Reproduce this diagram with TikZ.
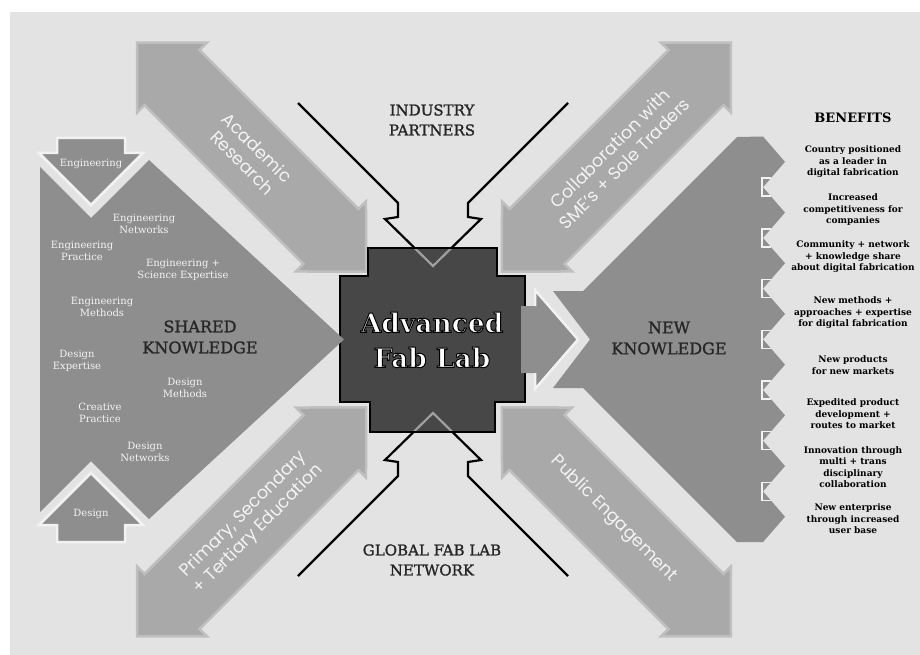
\documentclass[tikz,border=0pt]{standalone}
\usepackage{fontspec}
\setmainfont{DejaVu Serif}
\newfontfamily\slab{DejaVu Serif}
\newfontfamily\slabheavy[FakeBold=1.3]{DejaVu Serif}
\newfontfamily\geo{Poppins}
\definecolor{panel}{HTML}{E3E3E3}
\definecolor{bandfill}{HTML}{A9A9A9}
\definecolor{bandedge}{HTML}{BFBFBF}
\definecolor{knowfill}{HTML}{8E8E8E}
\definecolor{rimlight}{HTML}{F2F2F2}
\definecolor{labfill}{HTML}{474747}
\definecolor{inkdark}{HTML}{262626}
\definecolor{paletext}{HTML}{F3F3F3}
% white letters with a thin dark rim (fill + stroke text rendering)
\newcommand\rimon{\special{pdf:literal direct 2 Tr 1 w 0 G}}
\newcommand\rimoff{\special{pdf:literal direct 0 Tr}}

\begin{document}
\begin{tikzpicture}[x=1pt,y=-1pt,
  band/.style={fill=bandfill,draw=bandedge,line width=2.5pt,line join=miter},
  knowledge/.style={fill=knowfill},
  minor/.style={fill=knowfill,draw=rimlight,line width=2.5pt,line join=miter},
  partner/.style={draw=black,line width=2.2pt,line join=miter},
  partnerin/.style={draw=knowfill!85!white,line width=2.2pt,line join=miter},
  bandtext/.style={font=\geo\fontsize{17.5}{21}\selectfont,text=paletext,align=center},
  skill/.style={font=\slab\fontsize{10}{11.5}\selectfont,text=paletext,align=center},
  heading/.style={font=\slabheavy\fontsize{16}{21}\selectfont,text=inkdark,align=center},
  partnerlabel/.style={font=\slabheavy\fontsize{15}{20}\selectfont,text=inkdark,align=center},
  benefit/.style={font=\slab\bfseries\fontsize{9}{11.5}\selectfont,text=black,align=center},
  titletext/.style={font=\slab\bfseries\fontsize{26.5}{35}\selectfont,align=center,text=white}
]
\def\labpath{(368,248) -- (497,248) -- (497,276) -- (525,276) -- (525,402) -- (495,402) -- (495,432) -- (370,432) -- (370,402) -- (340,402) -- (340,276) -- (368,276) -- cycle}

\useasboundingbox (0,0) rectangle (920,655);
\fill[white] (0,0) rectangle (920,655);
\fill[panel] (10,12) rectangle (920,655);

% four double-headed diagonal bands around the lab
\foreach \ang in {45,135,225,315} {
  \begin{scope}[shift={(434,339.5)},rotate=\ang]
    \filldraw[band] (96,0) -- (145.7,49.5) -- (145.7,38.9) -- (370.5,38.9) -- (370.5,49.5) -- (420,0)
      -- (370.5,-49.5) -- (370.5,-38.9) -- (145.7,-38.9) -- (145.7,-49.5) -- cycle;
  \end{scope}
}

% new knowledge shape with its row of benefit arrowheads
\fill[knowledge] (583,291) -- (737,137)
  foreach \i in {0,...,7} { -- (763,{136.5+50.7*\i}) -- (785,{161.85+50.7*\i}) }
  -- (763,542.1) -- (737,542.1) -- (583,388) -- (553,388) -- (590,339.5) -- (553,291) -- cycle;
\foreach \i in {0,...,6}
  \draw[rimlight,line width=1.5pt] (771,{178.2+50.7*\i}) -- (762,{178.2+50.7*\i}) -- (762,{196.2+50.7*\i}) -- (771,{196.2+50.7*\i});

% industry partners and global network outline arrows
\draw[partner] (298,103) -- (398,203) -- (398,217) -- (385,219) -- (433,266) -- (481,219) -- (468,217) -- (468,203) -- (568,103);
\draw[partner] (298,576) -- (398,476) -- (398,462) -- (385,460) -- (433,413) -- (481,460) -- (468,462) -- (468,476) -- (568,576);

% the lab block
\fill[labfill] \labpath;
\begin{scope}
  \clip \labpath;
  \draw[partnerin] (385,219) -- (433,266) -- (481,219);
  \draw[partnerin] (385,460) -- (433,413) -- (481,460);
\end{scope}
\draw[black,line width=2pt,line join=miter] \labpath;

% arrow leaving the lab
\fill[knowfill] (521,306) -- (535,306) -- (535,290) -- (578,339.5) -- (535,389) -- (535,373) -- (521,373) -- cycle;
\draw[rimlight,line width=2.5pt,line join=miter] (535,306) -- (535,290) -- (578,339.5) -- (535,389) -- (535,373);

% shared knowledge shape with engineering and design inputs
\fill[knowledge] (40,167) -- (91,218) -- (149,160) -- (344,339.5) -- (149,519) -- (91,461) -- (40,512) -- cycle;
\filldraw[minor] (57,138) -- (125,138) -- (125,153) -- (143,153) -- (91,205) -- (39,153) -- (57,153) -- cycle;
\filldraw[minor] (57,542) -- (125,542) -- (125,525) -- (143,525) -- (91,473) -- (39,525) -- (57,525) -- cycle;

% title
\node[titletext] (title) at (432,340) {\rimon Advanced\rimoff\\\rimon Fab Lab\rimoff};

% band labels
\node[bandtext,rotate=-45] (academic) at (250,155) {Academic\\Research};
\node[bandtext,rotate=45] (collab) at (617,156) {Collaboration with\\SME’s + Sole Traders};
\node[bandtext,rotate=45] (schools) at (251,522) {Primary, Secondary\\+ Tertiary Education};
\node[bandtext,rotate=-45] (public) at (614,519) {Public Engagement};

% headings
\node[heading] (shared) at (200,337) {SHARED\\KNOWLEDGE};
\node[heading] (newknow) at (669,338) {NEW\\KNOWLEDGE};
\node[partnerlabel] (industry) at (432,120) {INDUSTRY\\PARTNERS};
\node[partnerlabel] (global) at (432,560) {GLOBAL FAB LAB\\NETWORK};

% shared knowledge items
\node[skill] (eng) at (91,164) {Engineering};
\node[skill] (engnet) at (144,224) {Engineering\\Networks};
\node[skill] (engprac) at (82,251) {Engineering\\Practice};
\node[skill] (engsci) at (183,270) {Engineering +\\Science Expertise};
\node[skill] (engmeth) at (102,307) {Engineering\\Methods};
\node[skill] (desexp) at (77,361) {Design\\Expertise};
\node[skill] (desmeth) at (185,388) {Design\\Methods};
\node[skill] (creprac) at (100,413) {Creative\\Practice};
\node[skill] (desnet) at (145,452) {Design\\Networks};
\node[skill] (des) at (91,514) {Design};

% benefits column
\node[font=\slab\bfseries\fontsize{13}{15}\selectfont,text=black] (benefits) at (853,118) {BENEFITS};
\node[benefit] (b1) at (853,162) {Country positioned\\as a leader in\\digital fabrication};
\node[benefit] (b2) at (853,210) {Increased\\competitiveness for\\companies};
\node[benefit] (b3) at (853,257) {Community + network\\+ knowledge share\\about digital fabrication};
\node[benefit] (b4) at (853,313) {New methods +\\approaches + expertise\\for digital fabrication};
\node[benefit] (b5) at (853,365) {New products\\for new markets};
\node[benefit] (b6) at (853,414) {Expedited product\\development +\\routes to market};
\node[benefit] (b7) at (853,467) {Innovation through\\multi + trans\\disciplinary\\collaboration};
\node[benefit] (b8) at (853,519) {New enterprise\\through increased\\user base};
\end{tikzpicture}
\end{document}
